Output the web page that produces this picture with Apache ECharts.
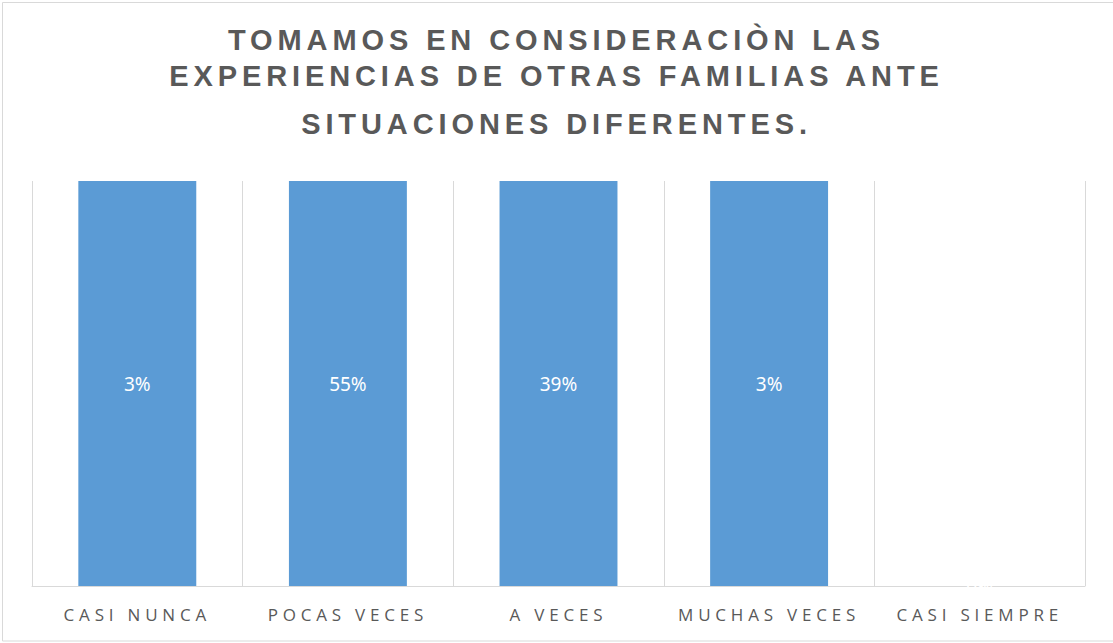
<!DOCTYPE html>
<html>
<head>
<meta charset="utf-8">
<script src="https://cdn.jsdelivr.net/npm/echarts@6/dist/echarts.min.js"></script>
<style>
  html, body { margin: 0; padding: 0; background: #ffffff; }
  #chart { width: 1113px; height: 643px; }
  /* wide letter spacing as in the original */
  #chart text[style*="Liberation Sans"] { letter-spacing: 4.9px; }
  #chart text[style*="Open Sans"] { letter-spacing: 4.8px; }
</style>
</head>
<body>
<div id="chart"></div>
<script>
const titleLines = [
  'TOMAMOS EN CONSIDERACIÒN LAS',
  'EXPERIENCIAS DE OTRAS FAMILIAS ANTE',
  'SITUACIONES DIFERENTES.'
];
const categories = ['CASI NUNCA', 'POCAS VECES', 'A VECES', 'MUCHAS VECES', 'CASI SIEMPRE'];
const percentValues = [3, 55, 39, 3, 0];

// 100% stacked column: each category's bar is its share of its own total
const shareValues = percentValues.map(v => (v > 0 ? (v / v) * 100 : 0));

const chart = echarts.init(document.getElementById('chart'), null, { renderer: 'svg' });

const titleTops = [25, 61, 109];
const option = {
  backgroundColor: '#ffffff',
  animation: false,
  title: titleLines.map((t, i) => ({
    text: t,
    left: 'center',
    top: titleTops[i],
    padding: 0,
    textStyle: {
      fontFamily: 'Liberation Sans',
      fontWeight: 'bold',
      fontSize: 29,
      color: '#595959'
    }
  })),
  graphic: [{
    type: 'rect',
    silent: true,
    z: -10,
    shape: { x: 2.5, y: 2.5, width: 1115, height: 638.5 },
    style: { fill: 'none', stroke: '#d9d9d9', lineWidth: 1 }
  }],
  grid: { left: 32, right: 28, top: 181, bottom: 57, containLabel: false },
  xAxis: {
    type: 'category',
    data: categories,
    boundaryGap: true,
    axisLine: { show: true, lineStyle: { color: '#d9d9d9', width: 1 } },
    axisTick: { show: false },
    splitLine: { show: true, lineStyle: { color: '#d9d9d9', width: 1 } },
    axisLabel: {
      margin: 20,
      fontFamily: 'Open Sans',
      fontSize: 17,
      color: '#595959',
      interval: 0
    }
  },
  yAxis: {
    type: 'value',
    min: 0,
    max: 100,
    show: false,
    splitLine: { show: false }
  },
  series: [{
    type: 'bar',
    data: shareValues,
    barWidth: '56%',
    itemStyle: { color: '#5b9bd5' },
    label: {
      show: true,
      position: 'inside',
      fontFamily: 'Noto Sans',
      fontSize: 19,
      color: '#ffffff',
      formatter: p => percentValues[p.dataIndex] + '%'
    }
  }]
};
chart.setOption(option);
</script>
</body>
</html>
